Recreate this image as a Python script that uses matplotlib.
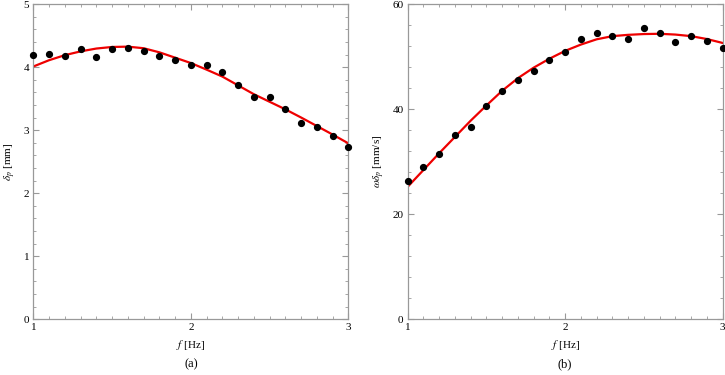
import matplotlib
matplotlib.use("Agg")
import matplotlib.pyplot as plt
from matplotlib.ticker import MultipleLocator

plt.rcParams["font.family"] = ["Liberation Serif", "DejaVu Serif"]
plt.rcParams["mathtext.fontset"] = "stix"

# --- data ---
freq = [1.0, 1.1, 1.2, 1.3, 1.4, 1.5, 1.6, 1.7, 1.8, 1.9, 2.0,
        2.1, 2.2, 2.3, 2.4, 2.5, 2.6, 2.7, 2.8, 2.9, 3.0]

# (a) displacement amplitude, measured [mm]
delta_meas = [4.19, 4.205, 4.17, 4.28, 4.16, 4.29, 4.30, 4.25, 4.17, 4.12, 4.04,
              4.04, 3.93, 3.72, 3.52, 3.52, 3.33, 3.11, 3.05, 2.90, 2.74]
# (a) fitted curve [mm]
delta_fit = [4.01, 4.11, 4.19, 4.25, 4.295, 4.32, 4.325, 4.30, 4.235, 4.15, 4.065,
             3.96, 3.85, 3.71, 3.57, 3.45, 3.33, 3.20, 3.065, 2.93, 2.79]

# (b) velocity amplitude, measured [mm/s]
vel_meas = [26.26, 29.0, 31.44, 35.0, 36.68, 40.58, 43.39, 45.50, 47.35, 49.33, 50.93,
            53.42, 54.50, 53.93, 53.29, 55.40, 54.57, 52.78, 53.93, 53.04, 51.63]
# (b) fitted curve [mm/s]
vel_fit = [25.2, 28.4, 31.6, 34.7, 37.8, 40.7, 43.5, 45.9, 47.9, 49.6, 51.1,
           52.3, 53.3, 53.9, 54.15, 54.3, 54.35, 54.2, 53.9, 53.35, 52.6]

FRAME = "#999999"

fig = plt.figure(figsize=(7.25, 3.75), dpi=100)
ax_a = fig.add_axes([0.046, 0.149, 0.4345, 0.840])
ax_b = fig.add_axes([0.5623, 0.149, 0.4345, 0.840])


def style(ax, ymax, ymajor, yminor):
    ax.set_xlim(1, 3)
    ax.set_ylim(0, ymax)
    ax.xaxis.set_major_locator(MultipleLocator(1))
    ax.xaxis.set_minor_locator(MultipleLocator(0.1))
    ax.yaxis.set_major_locator(MultipleLocator(ymajor))
    ax.yaxis.set_minor_locator(MultipleLocator(yminor))
    ax.tick_params(which="both", direction="in", top=True, right=True,
                   color=FRAME, labelsize=8, pad=3)
    ax.tick_params(which="major", length=4, width=0.8)
    ax.tick_params(which="minor", length=2, width=0.6)
    for sp in ax.spines.values():
        sp.set_color(FRAME)
        sp.set_linewidth(0.9)


# --- (a) ---
ax = ax_a
ax.plot(freq, delta_fit, color="#ee0000", lw=1.6, zorder=2)
ax.plot(freq, delta_meas, "o", color="black", ms=4.2, zorder=3, clip_on=False)
style(ax, 5, 1, 0.2)
ax.set_ylabel(r"$\delta_p$ [mm]", fontsize=8, labelpad=4)
ax.set_xlabel(r"$f$ [Hz]", fontsize=8, labelpad=4)
ax.text(0.5, -0.142, "(a)", transform=ax.transAxes, ha="center", va="center", fontsize=9)

# --- (b) ---
ax = ax_b
ax.plot(freq, vel_fit, color="#ee0000", lw=1.6, zorder=2)
ax.plot(freq, vel_meas, "o", color="black", ms=4.2, zorder=3, clip_on=False)
style(ax, 60, 20, 4)
ax.set_ylabel(r"$\omega\delta_p$ [mm/s]", fontsize=8, labelpad=4)
ax.set_xlabel(r"$f$ [Hz]", fontsize=8, labelpad=4)
ax.text(0.5, -0.142, "(b)", transform=ax.transAxes, ha="center", va="center", fontsize=9)

fig.savefig("out.png", dpi=100)
